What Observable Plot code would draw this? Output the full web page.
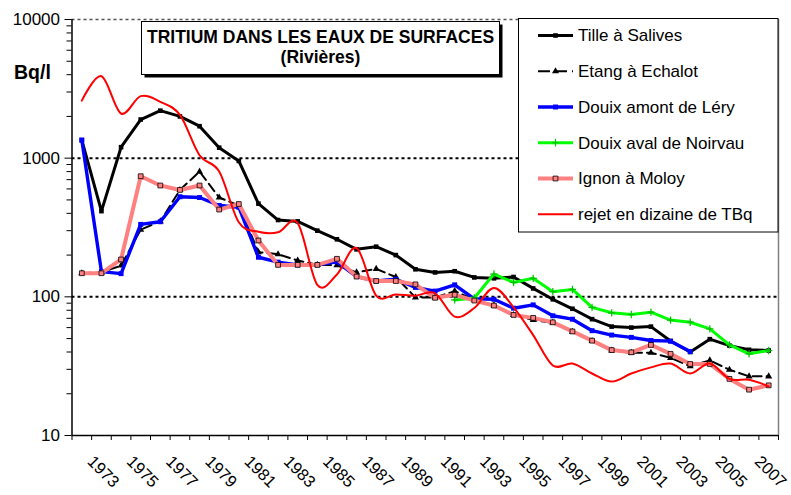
<!DOCTYPE html>
<html><head><meta charset="utf-8">
<script src="https://cdn.jsdelivr.net/npm/d3@7"></script>
<script src="https://cdn.jsdelivr.net/npm/@observablehq/plot@0.6"></script>
<style>
body{margin:0;background:#fff;}
#chart{width:791px;height:495px;}
</style>
</head><body>
<div id="chart"></div>
<script>
const years=[1972,1973,1974,1975,1976,1977,1978,1979,1980,1981,1982,1983,1984,1985,1986,1987,1988,1989,1990,1991,1992,1993,1994,1995,1996,1997,1998,1999,2000,2001,2002,2003,2004,2005,2006,2007];
const labelYears=[1973,1975,1977,1979,1981,1983,1985,1987,1989,1991,1993,1995,1997,1999,2001,2003,2005,2007];
const yTickLabels=[10,100,1000,10000];
const seriesNames=["Tille à Salives","Etang à Echalot","Douix amont de Léry","Douix aval de Noirvau","Ignon à Moloy","rejet en dizaine de TBq"];
const titleLines=["TRITIUM DANS LES EAUX DE SURFACES","(Rivières)"];
const yUnit="Bq/l";

const tille=[1350,415,1200,1900,2200,2000,1700,1190,955,470,358,350,300,260,220,230,200,158,150,153,138,136,139,115,96,82,69,61,60,61,48,40,49.5,44.5,41.5,41];
const etang=[148,150,168,305,350,590,800,520,456,210,203,183,170,169,150,159,139,99,99,110,95,87,74,68,65,56,48,41,39.5,39.5,36.3,31.6,34.8,29.8,26.7,26.7];
const douixAmont=[1350,152,147,333,348,527,520,456,443,193,178,170,170,179,140,130,134,117,110,122,96.8,96,82.8,87.5,73,69,57,53,51,48.4,47.9,40.3,null,null,null,null];
const douixAval=[null,null,null,null,null,null,null,null,null,null,null,null,null,null,null,null,null,null,null,95,98,146,127,136,109,113,84,76.7,74.6,77.5,68,65.6,58.8,45,38.8,41];
const ignon=[148,148,186,741,635,590,635,426,467,255,170,170,170,188,140,130,130,123,98.4,103.5,94,86.5,74,70.5,65.5,56.3,48.3,41.3,39.8,45,38.8,32.8,32.8,25.6,21.4,23];
const rejet=[2600,3900,2100,2800,2550,2050,1050,800,345,295,292,340,122,145,225,102,104,102,106,72,83,116,84,53,32,33,28,24.5,28,31,33,28,33,25.6,25.2,22.6];

const rows = arr => years.map((year,i)=>({year, v:arr[i]})).filter(d=>d.v!=null);
const bounds = years.map(y=>y-0.5).concat([years[years.length-1]+0.5]);
const minorTicks=[];
for (const d of [10,100,1000]) for (let k=2;k<10;k++) minorTicks.push(d*k);

const FONT='"Liberation Sans", Arial, sans-serif';
const styles=[
  {stroke:"#000000", width:3, dash:null, symbol:"square", fill:"#000000", mstroke:"none", r:2.6},
  {stroke:"#000000", width:2, dash:"9,5", symbol:"triangle", fill:"#000000", mstroke:"none", r:2.6},
  {stroke:"#0000FF", width:3.4, dash:null, symbol:"square", fill:"#0000FF", mstroke:"none", r:2.8},
  {stroke:"#00FF00", width:3, dash:null, symbol:"plus", fill:"none", mstroke:"#00C000", r:2.5},
  {stroke:"#FF8080", width:4, dash:null, symbol:"square", fill:"#FF8080", mstroke:"#000000", r:2.7},
  {stroke:"#FF0000", width:2, dash:null, symbol:null}
];
const series=[tille,etang,douixAmont,douixAval,ignon,rejet];

const marks=[
  Plot.ruleY([yTickLabels[3]],{stroke:"#555",strokeWidth:1.5,strokeDasharray:"3,3"}),
  Plot.ruleY([yTickLabels[1],yTickLabels[2]],{stroke:"#000",strokeWidth:2,strokeDasharray:"3,3"}),
  Plot.ruleX([bounds[bounds.length-1]],{stroke:"#808080",strokeWidth:1.5}),
];
series.forEach((arr,i)=>{
  const s=styles[i];
  const data=rows(arr);
  if (i===5) {
    marks.push(Plot.line(data,{x:"year",y:"v",stroke:s.stroke,strokeWidth:s.width,curve:"cardinal",tension:0}));
  } else {
    marks.push(Plot.line(data,{x:"year",y:"v",stroke:s.stroke,strokeWidth:s.width,strokeDasharray:s.dash}));
    marks.push(Plot.dot(data,{x:"year",y:"v",symbol:s.symbol,r:s.r,fill:s.fill,stroke:s.mstroke,strokeWidth:s.symbol==="plus"?1.2:0.8}));
  }
});
marks.push(
  Plot.ruleX([bounds[0]],{stroke:"#000",strokeWidth:1.5}),
  Plot.ruleY([yTickLabels[0]],{stroke:"#000",strokeWidth:1.5}),
  Plot.axisY(minorTicks,{anchor:"left",tickSize:5,tickFormat:()=>"",label:null,strokeWidth:1}),
  Plot.axisY(yTickLabels,{anchor:"left",tickSize:7,tickPadding:5,tickFormat:d=>String(d),label:null,fontSize:17,strokeWidth:1}),
  Plot.axisX(bounds,{anchor:"bottom",tickSize:5,tickFormat:()=>"",label:null,strokeWidth:1}),
  Plot.text(labelYears,{x:d=>d,text:d=>String(d),frameAnchor:"bottom",rotate:45,textAnchor:"start",lineAnchor:"bottom",dx:-15,dy:27,fontSize:16.5})
);

const chart=Plot.plot({
  width:791,height:495,
  marginLeft:71.5,marginRight:13,marginTop:19,marginBottom:60,
  style:{fontFamily:FONT,fontSize:"17px",background:"#fff",color:"#000",overflow:"visible"},
  x:{type:"linear",domain:[bounds[0],bounds[bounds.length-1]],axis:null},
  y:{type:"log",domain:[yTickLabels[0],yTickLabels[3]],axis:null},
  marks
});
document.getElementById("chart").appendChild(chart);

// decorations: unit label, title box, legend
const svg=d3.select(chart);
svg.append("text").attr("x",14).attr("y",78.5).attr("text-anchor","start").attr("font-family",FONT).attr("font-weight","bold").attr("font-size",19.5).attr("fill","#000").text(yUnit);

const tg=svg.append("g");
tg.append("rect").attr("x",144.5).attr("y",24.5).attr("width",358).attr("height",53).attr("fill","#000");
tg.append("rect").attr("x",141.5).attr("y",21.5).attr("width",358).attr("height",53).attr("fill","#fff").attr("stroke","#000").attr("stroke-width",1);
titleLines.forEach((t,i)=>{
  tg.append("text").attr("x",320.5).attr("y",42.7+i*20).attr("text-anchor","middle").attr("font-family",FONT).attr("font-weight","bold").attr("font-size",17.5).attr("fill","#000").text(t);
});

const lg=svg.append("g");
lg.append("rect").attr("x",518.5).attr("y",18.5).attr("width",259.5).attr("height",213.5).attr("fill","#fff").attr("stroke","#000").attr("stroke-width",1);
const sym={square:d3.symbolSquare,triangle:d3.symbolTriangle,plus:d3.symbolPlus};
seriesNames.forEach((name,i)=>{
  const s=styles[i];
  const y=35.5+i*35.75;
  lg.append("line").attr("x1",538).attr("x2",573).attr("y1",y).attr("y2",y).attr("stroke",s.stroke).attr("stroke-width",s.width).attr("stroke-dasharray",s.dash?"12,5":null);
  if (s.symbol){
    lg.append("path").attr("transform",`translate(555.5,${y})`).attr("d",d3.symbol(sym[s.symbol],Math.PI*s.r*s.r)()).attr("fill",s.fill).attr("stroke",s.mstroke).attr("stroke-width",s.symbol==="plus"?1.2:0.8);
  }
  lg.append("text").attr("x",578).attr("y",y).attr("dy","0.35em").attr("text-anchor","start").attr("font-family",FONT).attr("font-size",17).attr("fill","#000").text(name);
});
</script>
</body></html>
